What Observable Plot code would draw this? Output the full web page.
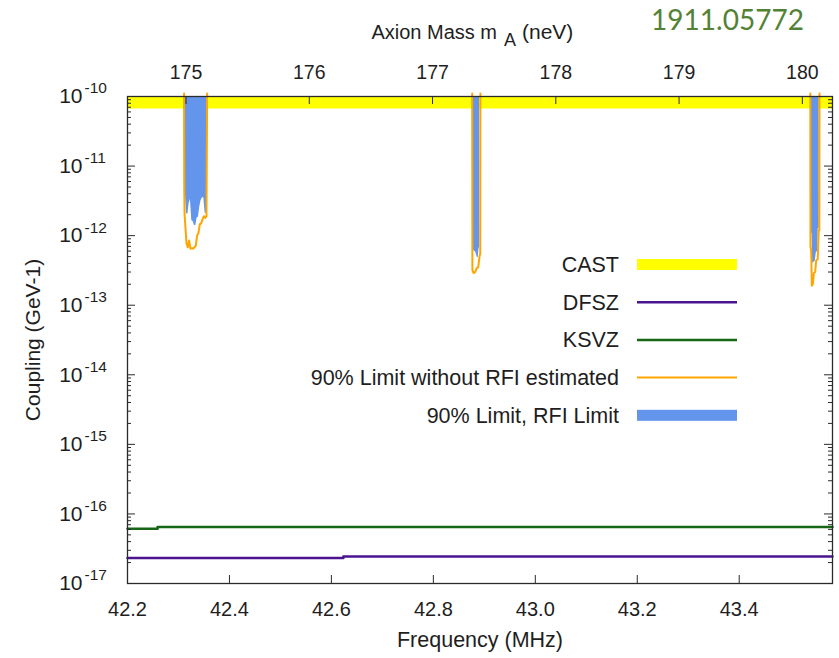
<!DOCTYPE html>
<html><head><meta charset="utf-8">
<script src="https://cdn.jsdelivr.net/npm/d3@7"></script>
<script src="https://cdn.jsdelivr.net/npm/@observablehq/plot@0.6"></script>
<style>body{margin:0;background:#fff}</style>
</head><body><div id="chart"></div>
<script>
// ---- data ----
const freqDomain = [42.2, 43.583];               // MHz
const mhzTicks = [42.2, 42.4, 42.6, 42.8, 43.0, 43.2, 43.4];
const neVTicks = [175, 176, 177, 178, 179, 180];
const neVPerMHz = 4.135667;
const yDecades = [-17, -16, -15, -14, -13, -12, -11, -10];
const yTop = 1e-10;

const castFreq = [42.2, 43.583];
const castLimit = [6.6e-11, 6.6e-11];

const ksvzFreq = [42.2, 42.259, 43.583];
const ksvzVal = [6.1e-17, 6.5e-17, 6.5e-17];
const dfszFreq = [42.2, 42.6235, 43.583];
const dfszVal = [2.33e-17, 2.44e-17, 2.44e-17];

// 90% limit without RFI estimated (orange), per scanned window: [MHz, coupling]
const orange1 = [[42.3110,1.1e-10],[42.3115,4.0e-12],[42.3120,2.0e-12],[42.3137,1.3e-12],[42.3157,7.7e-13],[42.3183,6.8e-13],[42.3209,8.5e-13],[42.3235,6.5e-13],[42.3261,6.6e-13],[42.3288,6.5e-13],[42.3314,6.8e-13],[42.3340,7.2e-13],[42.3366,1.0e-12],[42.3392,1.1e-12],[42.3418,1.45e-12],[42.3444,1.5e-12],[42.3471,1.7e-12],[42.3497,1.9e-12],[42.3523,1.8e-12],[42.3549,1.9e-12],[42.3562,1.1e-10]];
const orange2 = [[42.8762,1.1e-10],[42.8766,3.2e-13],[42.8790,2.9e-13],[42.8820,3.0e-13],[42.8850,3.4e-13],[42.8880,3.5e-13],[42.8905,5.0e-13],[42.8920,5.5e-13],[42.8923,1.1e-10]];
const orange3 = [[43.5395,1.1e-10],[43.5398,7.0e-13],[43.5412,6.0e-13],[43.5425,1.9e-13],[43.5445,2.0e-13],[43.5465,2.9e-13],[43.5490,3.0e-13],[43.5510,4.4e-13],[43.5540,4.6e-13],[43.5560,1.2e-12],[43.5572,1.2e-12],[43.5575,1.1e-10]];
// 90% limit, RFI limit (blue area up to the top)
const blue1 = [[42.3115,4.0e-12],[42.3137,4.0e-12],[42.3157,2.1e-12],[42.3183,2.0e-12],[42.3209,2.9e-12],[42.3235,3.3e-12],[42.3261,1.65e-12],[42.3288,1.6e-12],[42.3314,1.4e-12],[42.3340,1.4e-12],[42.3366,1.8e-12],[42.3392,1.85e-12],[42.3418,2.6e-12],[42.3444,3.2e-12],[42.3471,3.5e-12],[42.3497,3.5e-12],[42.3523,2.1e-12],[42.3549,2.1e-12],[42.3560,2.1e-12]];
const blue2 = [[42.8778,6.5e-13],[42.8800,6.0e-13],[42.8830,5.8e-13],[42.8860,4.9e-13],[42.8880,4.8e-13],[42.8895,6.5e-13],[42.8908,6.8e-13]];
const blue3 = [[43.5412,1.07e-12],[43.5430,1.07e-12],[43.5440,4.0e-13],[43.5465,4.1e-13],[43.5490,4.3e-13],[43.5515,5.8e-13],[43.5540,5.8e-13],[43.5550,1.27e-12],[43.5569,1.27e-12]];

const legendLabels = ["CAST", "DFSZ", "KSVZ", "90% Limit without RFI estimated", "90% Limit, RFI Limit"];

// ---- styles ----
const C = {cast: "#ffff00", dfsz: "#4b148f", ksvz: "#156615", orange: "#ffa500", blue: "#6495ed", frame: "#2a2a2a", text: "#1e1e1e"};
const W = 839, H = 658, mL = 127, mR = 7, mT = 96, mB = 75;
const FW = W - mL - mR, FH = H - mT - mB;
const FONT = "'Liberation Sans', Arial, Helvetica, sans-serif";

// ---- tables ----
const tag = (arr, r) => arr.map(([f, v]) => ({f, v, r}));
const orangeData = [...tag(orange1, 1), ...tag(orange2, 2), ...tag(orange3, 3)];
const blueData = [...tag(blue1, 1), ...tag(blue2, 2), ...tag(blue3, 3)];
const castData = castFreq.map((f, i) => ({f, v: castLimit[i]}));
const ksvzData = ksvzFreq.map((f, i) => ({f, v: ksvzVal[i]}));
const dfszData = dfszFreq.map((f, i) => ({f, v: dfszVal[i]}));
const yMajor = yDecades.map(d => Math.pow(10, d));
const yMinor = [];
for (const d of yDecades.slice(0, -1)) for (let k = 2; k <= 9; k++) yMinor.push(k * Math.pow(10, d));
const neVTickMHz = neVTicks.map(m => m / neVPerMHz);

const plot = Plot.plot({
  width: W, height: H,
  marginLeft: mL, marginRight: mR, marginTop: mT, marginBottom: mB,
  style: {fontFamily: FONT, fontSize: "20px", color: C.text, background: "#fff"},
  x: {domain: freqDomain, axis: null, label: null},
  y: {type: "log", domain: [1e-17, 1e-10], axis: null, label: null},
  marks: [
    Plot.areaY(castData, {x: "f", y1: "v", y2: () => yTop, fill: C.cast}),
    Plot.areaY(blueData, {x: "f", y1: "v", y2: () => yTop, z: "r", fill: C.blue}),
    Plot.line(orangeData, {x: "f", y: "v", z: "r", stroke: C.orange, strokeWidth: 2}),
    Plot.line(ksvzData, {x: "f", y: "v", curve: "step-after", stroke: C.ksvz, strokeWidth: 2.5}),
    Plot.line(dfszData, {x: "f", y: "v", curve: "step-after", stroke: C.dfsz, strokeWidth: 2.5}),
    // inward ticks
    Plot.tickY(yMajor, {y: d => d, insetRight: FW - 8, stroke: C.frame}),
    Plot.tickY(yMinor, {y: d => d, insetRight: FW - 4, stroke: C.frame}),
    Plot.tickY(yMajor, {y: d => d, insetLeft: FW - 8, stroke: C.frame}),
    Plot.tickY(yMinor, {y: d => d, insetLeft: FW - 4, stroke: C.frame}),
    Plot.tickX(mhzTicks, {x: d => d, insetTop: FH - 8, stroke: C.frame}),
    Plot.tickX(neVTickMHz, {x: d => d, insetBottom: FH - 8, stroke: C.frame}),
    Plot.frame({stroke: C.frame, strokeWidth: 1.3}),
    // axes labels
    Plot.axisX(mhzTicks, {anchor: "bottom", label: null, tickSize: 0, tickPadding: 18, fontSize: 20, fill: C.text, tickFormat: d => d.toFixed(1)}),
    Plot.axisX(neVTickMHz, {anchor: "top", label: null, tickSize: 0, tickPadding: 18, fontSize: 19.5, fill: C.text, tickFormat: d => String(Math.round(d * neVPerMHz))}),
    Plot.text(yMajor, {y: d => d, text: () => "10", frameAnchor: "left", dx: -45, textAnchor: "end", lineAnchor: "middle", fontSize: 21, fill: C.text}),
    Plot.text(yDecades, {y: d => Math.pow(10, d), text: d => String(d), frameAnchor: "left", dx: -43, dy: -8, textAnchor: "start", lineAnchor: "middle", fontSize: 15.5, fill: C.text}),
    // titles
    Plot.text(["Frequency (MHz)"], {text: d => d, frameAnchor: "bottom", dy: 57, lineAnchor: "middle", textAnchor: "middle", fontSize: 21.5, fill: C.text}),
    Plot.text(["Coupling (GeV-1)"], {text: d => d, frameAnchor: "left", dx: -94, rotate: -90, textAnchor: "middle", lineAnchor: "middle", fontSize: 21, fill: C.text}),
    Plot.text(["Axion Mass m"], {text: d => d, frameAnchor: "top", dx: 17, dy: -64, textAnchor: "end", lineAnchor: "middle", fontSize: 20, fill: C.text}),
    Plot.text(["A"], {text: d => d, frameAnchor: "top", dx: 24, dy: -56, textAnchor: "start", lineAnchor: "middle", fontSize: 18, fill: C.text}),
    Plot.text(["(neV)"], {text: d => d, frameAnchor: "top", dx: 42, dy: -64, textAnchor: "start", lineAnchor: "middle", fontSize: 21, fill: C.text}),
    Plot.text(["1911.05772"], {text: d => d, frameAnchor: "top-right", dx: -105, dy: -75, textAnchor: "middle", lineAnchor: "middle", fontSize: 28, fontFamily: "Lato, 'Noto Sans', sans-serif", fill: "#548235"})
  ]
});

// legend (inside plot area, like the original key)
const svg = d3.select(plot);
const lg = svg.append("g").attr("font-family", FONT).attr("font-size", 21.5).attr("fill", C.text);
const legendStyle = [
  {kind: "band", color: C.cast}, {kind: "line", color: C.dfsz, w: 2.5},
  {kind: "line", color: C.ksvz, w: 2.5}, {kind: "line", color: C.orange, w: 2},
  {kind: "band", color: C.blue}
];
legendLabels.forEach((lab, i) => {
  const y = 264.5 + i * 37.7;
  lg.append("text").attr("x", 619).attr("y", y).attr("dy", "0.35em").attr("text-anchor", "end").text(lab);
  const s = legendStyle[i];
  if (s.kind === "band") lg.append("rect").attr("x", 637).attr("y", y - 5.5).attr("width", 100).attr("height", 11).attr("fill", s.color);
  else lg.append("line").attr("x1", 637).attr("x2", 737).attr("y1", y).attr("y2", y).attr("stroke", s.color).attr("stroke-width", s.w);
});

document.getElementById("chart").appendChild(plot);
</script>
</body></html>
